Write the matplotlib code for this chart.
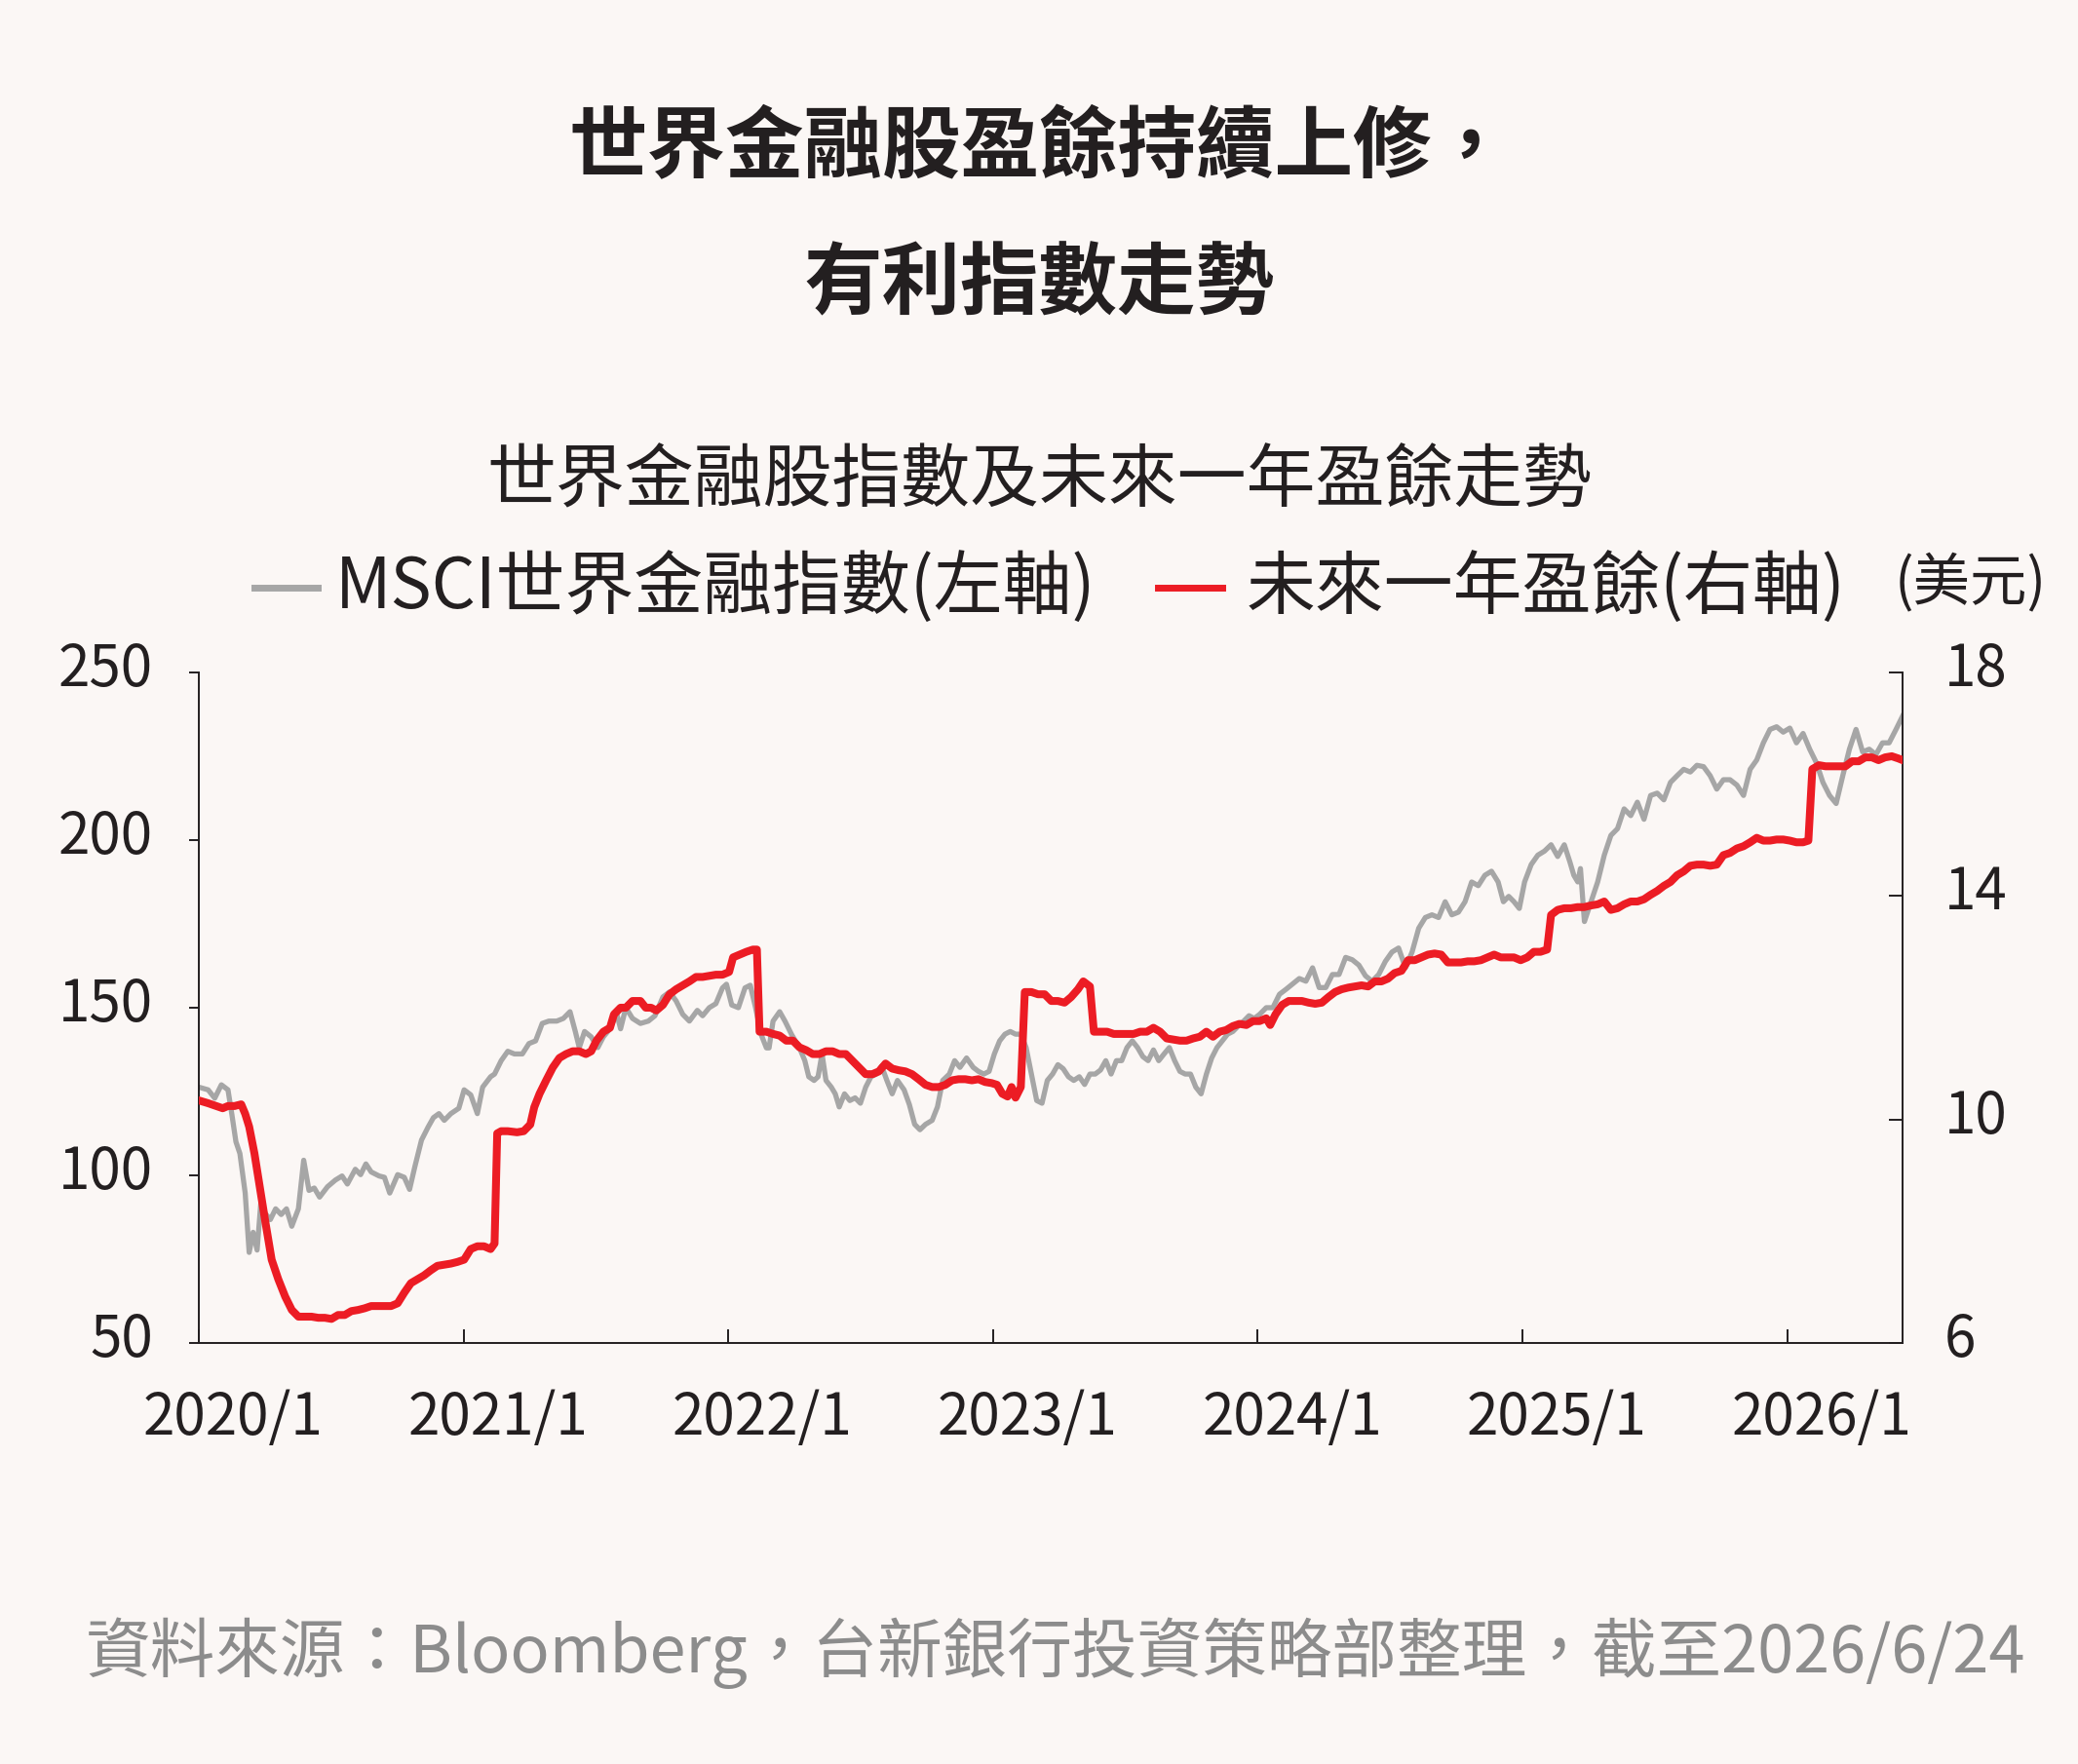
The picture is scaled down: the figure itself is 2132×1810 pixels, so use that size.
import matplotlib
matplotlib.use('Agg')
import matplotlib.pyplot as plt
from matplotlib.lines import Line2D
from matplotlib.transforms import ScaledTranslation

plt.rcParams['font.family'] = ['Noto Sans CJK TC', 'DejaVu Sans']

# MSCI world financials index (left axis), time in decimal years
msci_t = [
    2020.000, 2020.035, 2020.060, 2020.085, 2020.110, 2020.125, 2020.140, 2020.155, 2020.175, 2020.190,
    2020.205, 2020.220, 2020.235, 2020.250, 2020.270, 2020.290, 2020.311, 2020.331, 2020.351, 2020.376,
    2020.396, 2020.416, 2020.436, 2020.456, 2020.486, 2020.516, 2020.541, 2020.561, 2020.591, 2020.611,
    2020.631, 2020.651, 2020.681, 2020.701, 2020.721, 2020.751, 2020.776, 2020.796, 2020.816, 2020.841,
    2020.866, 2020.886, 2020.907, 2020.927, 2020.952, 2020.982, 2021.002, 2021.027, 2021.052, 2021.072,
    2021.102, 2021.117, 2021.142, 2021.167, 2021.192, 2021.222, 2021.247, 2021.272, 2021.297, 2021.322,
    2021.352, 2021.377, 2021.402, 2021.422, 2021.437, 2021.457, 2021.482, 2021.507, 2021.528, 2021.553,
    2021.578, 2021.593, 2021.613, 2021.638, 2021.668, 2021.698, 2021.723, 2021.753, 2021.778, 2021.803,
    2021.828, 2021.853, 2021.883, 2021.903, 2021.928, 2021.953, 2021.978, 2021.993, 2022.013, 2022.038,
    2022.063, 2022.083, 2022.103, 2022.124, 2022.144, 2022.154, 2022.169, 2022.194, 2022.214, 2022.239,
    2022.269, 2022.289, 2022.304, 2022.324, 2022.339, 2022.354, 2022.369, 2022.389, 2022.404, 2022.419,
    2022.439, 2022.459, 2022.479, 2022.499, 2022.519, 2022.539, 2022.559, 2022.579, 2022.599, 2022.619,
    2022.639, 2022.664, 2022.684, 2022.704, 2022.724, 2022.745, 2022.770, 2022.790, 2022.810, 2022.835,
    2022.855, 2022.875, 2022.900, 2022.925, 2022.945, 2022.965, 2022.985, 2023.005, 2023.025, 2023.045,
    2023.065, 2023.085, 2023.105, 2023.125, 2023.145, 2023.165, 2023.185, 2023.205, 2023.225, 2023.245,
    2023.265, 2023.285, 2023.305, 2023.326, 2023.346, 2023.366, 2023.386, 2023.406, 2023.426, 2023.446,
    2023.466, 2023.486, 2023.506, 2023.526, 2023.546, 2023.566, 2023.586, 2023.606, 2023.626, 2023.646,
    2023.666, 2023.686, 2023.706, 2023.726, 2023.746, 2023.766, 2023.786, 2023.806, 2023.826, 2023.846,
    2023.866, 2023.886, 2023.906, 2023.926, 2023.947, 2023.967, 2023.987, 2024.007, 2024.032, 2024.057,
    2024.082, 2024.107, 2024.132, 2024.157, 2024.182, 2024.207, 2024.232, 2024.257, 2024.282, 2024.307,
    2024.332, 2024.357, 2024.382, 2024.407, 2024.432, 2024.457, 2024.482, 2024.507, 2024.532, 2024.558,
    2024.583, 2024.608, 2024.633, 2024.658, 2024.683, 2024.708, 2024.733, 2024.758, 2024.783, 2024.808,
    2024.833, 2024.858, 2024.883, 2024.908, 2024.928, 2024.948, 2024.968, 2024.988, 2025.008, 2025.033,
    2025.058, 2025.083, 2025.108, 2025.133, 2025.158, 2025.179, 2025.194, 2025.209, 2025.219, 2025.234,
    2025.259, 2025.284, 2025.309, 2025.334, 2025.359, 2025.384, 2025.409, 2025.434, 2025.459, 2025.484,
    2025.509, 2025.534, 2025.559, 2025.584, 2025.609, 2025.634, 2025.659, 2025.684, 2025.709, 2025.734,
    2025.759, 2025.784, 2025.810, 2025.835, 2025.860, 2025.885, 2025.910, 2025.935, 2025.960, 2025.985,
    2026.010, 2026.035, 2026.060, 2026.085, 2026.110, 2026.135, 2026.160, 2026.185, 2026.210, 2026.235,
    2026.260, 2026.285, 2026.310, 2026.335, 2026.360, 2026.385, 2026.411, 2026.436,
]
msci_v = [
    126.3, 125.5, 123.0, 127.0, 125.5, 118.0, 110.0, 106.5, 94.7, 77.0,
    83.0, 77.7, 92.7, 88.7, 86.8, 90.0, 88.3, 90.0, 84.8, 90.0,
    104.5, 95.5, 96.2, 93.5, 96.6, 98.6, 99.8, 97.4, 101.8, 100.2,
    103.4, 101.0, 99.8, 99.4, 94.7, 100.2, 99.4, 95.8, 102.6, 110.5,
    114.4, 117.2, 118.4, 116.4, 118.4, 120.0, 125.5, 124.0, 118.4, 126.3,
    129.4, 130.2, 134.2, 137.0, 136.2, 136.2, 139.3, 140.1, 145.3, 146.0,
    146.0, 146.8, 148.8, 142.9, 138.1, 142.9, 141.3, 138.1, 141.3, 143.7,
    148.4, 143.7, 150.0, 146.8, 145.3, 146.0, 147.6, 153.2, 154.7, 152.0,
    148.0, 146.0, 149.2, 147.6, 150.0, 151.2, 155.9, 157.0, 150.8, 150.0,
    155.9, 156.7, 150.0, 142.0, 138.0, 138.0, 146.0, 148.8, 146.0, 142.0,
    138.0, 134.2, 129.4, 128.3, 129.4, 136.2, 128.3, 126.3, 124.3, 120.4,
    124.3, 122.3, 123.1, 121.5, 126.3, 129.4, 130.2, 132.6, 128.3, 124.3,
    128.3, 125.5, 121.1, 115.2, 113.6, 115.2, 116.4, 120.4, 128.3, 130.2,
    134.2, 132.2, 135.0, 132.2, 131.0, 130.2, 131.0, 136.2, 140.1, 142.1,
    142.9, 142.1, 142.1, 138.1, 130.2, 122.3, 121.5, 128.3, 130.2, 133.0,
    131.8, 129.4, 128.3, 129.4, 127.1, 130.2, 130.2, 131.4, 134.2, 130.2,
    134.2, 134.2, 138.1, 140.1, 138.1, 135.4, 134.2, 137.4, 134.2, 136.2,
    138.1, 134.2, 131.0, 130.2, 130.2, 126.3, 124.3, 130.2, 135.0, 138.1,
    140.1, 142.1, 142.9, 144.5, 146.0, 147.6, 146.8, 148.0, 150.0, 150.0,
    154.0, 155.5, 157.1, 158.7, 157.9, 161.9, 156.0, 156.0, 159.9, 159.9,
    165.0, 164.3, 162.7, 159.5, 157.9, 159.9, 163.8, 166.6, 167.8, 161.9,
    166.6, 173.7, 176.9, 177.7, 176.9, 181.6, 177.7, 178.5, 181.6, 187.5,
    186.4, 189.5, 190.7, 187.5, 181.6, 183.2, 181.6, 179.6, 187.5, 192.7,
    195.5, 196.7, 198.6, 195.1, 198.6, 193.5, 189.5, 187.5, 191.5, 175.7,
    181.6, 187.5, 195.5, 201.4, 203.4, 209.3, 207.3, 211.3, 206.2, 213.3,
    214.0, 212.0, 217.2, 219.2, 221.1, 220.3, 222.3, 221.9, 219.2, 215.2,
    218.0, 218.0, 216.4, 213.3, 221.1, 223.9, 229.0, 233.0, 233.8, 232.2,
    233.4, 229.0, 231.8, 227.1, 223.1, 217.2, 213.3, 210.9, 219.2, 227.1,
    233.0, 226.3, 227.1, 225.5, 229.0, 229.0, 233.0, 237.0,
]

# forward 12-month EPS (right axis, USD)
eps_t = [
    2020.000, 2020.035, 2020.065, 2020.090, 2020.110, 2020.135, 2020.160, 2020.175, 2020.190, 2020.210,
    2020.230, 2020.250, 2020.275, 2020.300, 2020.326, 2020.351, 2020.376, 2020.401, 2020.426, 2020.451,
    2020.476, 2020.501, 2020.526, 2020.551, 2020.576, 2020.601, 2020.626, 2020.651, 2020.676, 2020.701,
    2020.726, 2020.751, 2020.776, 2020.801, 2020.826, 2020.851, 2020.876, 2020.901, 2020.927, 2020.952,
    2020.977, 2021.002, 2021.027, 2021.052, 2021.077, 2021.102, 2021.117, 2021.127, 2021.142, 2021.167,
    2021.202, 2021.227, 2021.252, 2021.267, 2021.287, 2021.312, 2021.337, 2021.362, 2021.387, 2021.412,
    2021.437, 2021.462, 2021.482, 2021.502, 2021.528, 2021.553, 2021.568, 2021.593, 2021.613, 2021.638,
    2021.668, 2021.688, 2021.708, 2021.728, 2021.753, 2021.778, 2021.803, 2021.828, 2021.853, 2021.878,
    2021.903, 2021.928, 2021.953, 2021.978, 2022.003, 2022.018, 2022.043, 2022.068, 2022.093, 2022.108,
    2022.118, 2022.144, 2022.169, 2022.194, 2022.219, 2022.244, 2022.269, 2022.294, 2022.319, 2022.344,
    2022.369, 2022.394, 2022.419, 2022.444, 2022.469, 2022.494, 2022.519, 2022.544, 2022.569, 2022.594,
    2022.619, 2022.644, 2022.669, 2022.694, 2022.719, 2022.745, 2022.770, 2022.795, 2022.820, 2022.845,
    2022.870, 2022.895, 2022.920, 2022.945, 2022.970, 2022.995, 2023.015, 2023.035, 2023.055, 2023.070,
    2023.085, 2023.105, 2023.120, 2023.145, 2023.170, 2023.195, 2023.220, 2023.245, 2023.270, 2023.295,
    2023.321, 2023.341, 2023.366, 2023.381, 2023.406, 2023.431, 2023.456, 2023.481, 2023.506, 2023.531,
    2023.556, 2023.581, 2023.606, 2023.631, 2023.656, 2023.681, 2023.706, 2023.731, 2023.756, 2023.781,
    2023.806, 2023.831, 2023.856, 2023.881, 2023.906, 2023.931, 2023.957, 2023.982, 2024.007, 2024.032,
    2024.047, 2024.067, 2024.092, 2024.117, 2024.142, 2024.167, 2024.192, 2024.217, 2024.242, 2024.267,
    2024.292, 2024.317, 2024.342, 2024.367, 2024.392, 2024.417, 2024.442, 2024.467, 2024.492, 2024.517,
    2024.543, 2024.568, 2024.593, 2024.618, 2024.643, 2024.668, 2024.693, 2024.718, 2024.743, 2024.768,
    2024.793, 2024.818, 2024.843, 2024.868, 2024.893, 2024.918, 2024.943, 2024.968, 2024.993, 2025.018,
    2025.043, 2025.068, 2025.093, 2025.108, 2025.133, 2025.158, 2025.183, 2025.208, 2025.233, 2025.259,
    2025.284, 2025.309, 2025.334, 2025.359, 2025.384, 2025.409, 2025.434, 2025.459, 2025.484, 2025.509,
    2025.534, 2025.559, 2025.584, 2025.609, 2025.634, 2025.659, 2025.684, 2025.709, 2025.734, 2025.759,
    2025.784, 2025.810, 2025.835, 2025.860, 2025.885, 2025.910, 2025.935, 2025.960, 2025.985, 2026.010,
    2026.035, 2026.060, 2026.080, 2026.095, 2026.120, 2026.145, 2026.170, 2026.195, 2026.220, 2026.245,
    2026.270, 2026.295, 2026.320, 2026.345, 2026.370, 2026.395, 2026.420, 2026.436,
]
eps_v = [
    10.34, 10.29, 10.24, 10.20, 10.24, 10.24, 10.27, 10.10, 9.87, 9.39,
    8.80, 8.20, 7.49, 7.14, 6.83, 6.59, 6.47, 6.47, 6.47, 6.45,
    6.45, 6.43, 6.50, 6.50, 6.57, 6.59, 6.62, 6.66, 6.66, 6.66,
    6.66, 6.71, 6.90, 7.07, 7.14, 7.21, 7.30, 7.38, 7.40, 7.42,
    7.45, 7.49, 7.68, 7.73, 7.73, 7.68, 7.78, 9.75, 9.79, 9.79,
    9.77, 9.79, 9.91, 10.22, 10.46, 10.70, 10.93, 11.10, 11.17, 11.22,
    11.22, 11.17, 11.22, 11.41, 11.57, 11.64, 11.88, 12.00, 12.00, 12.12,
    12.12, 12.00, 12.00, 11.95, 12.05, 12.24, 12.33, 12.40, 12.47, 12.55,
    12.55, 12.57, 12.59, 12.59, 12.64, 12.90, 12.95, 13.00, 13.04, 13.04,
    11.57, 11.57, 11.53, 11.50, 11.41, 11.41, 11.29, 11.24, 11.17, 11.17,
    11.22, 11.22, 11.17, 11.17, 11.05, 10.93, 10.81, 10.81, 10.86, 11.00,
    10.91, 10.88, 10.86, 10.81, 10.72, 10.62, 10.58, 10.58, 10.62, 10.70,
    10.72, 10.72, 10.70, 10.72, 10.67, 10.65, 10.62, 10.46, 10.41, 10.58,
    10.39, 10.58, 12.28, 12.28, 12.24, 12.24, 12.12, 12.12, 12.09, 12.19,
    12.33, 12.47, 12.38, 11.57, 11.57, 11.57, 11.53, 11.53, 11.53, 11.53,
    11.57, 11.57, 11.64, 11.57, 11.45, 11.43, 11.41, 11.41, 11.45, 11.48,
    11.57, 11.48, 11.57, 11.60, 11.67, 11.71, 11.69, 11.76, 11.76, 11.81,
    11.69, 11.88, 12.05, 12.12, 12.12, 12.12, 12.09, 12.07, 12.09, 12.19,
    12.28, 12.33, 12.36, 12.38, 12.40, 12.38, 12.47, 12.47, 12.52, 12.62,
    12.66, 12.85, 12.85, 12.90, 12.95, 12.97, 12.95, 12.81, 12.81, 12.81,
    12.83, 12.83, 12.85, 12.90, 12.95, 12.90, 12.90, 12.90, 12.85, 12.90,
    13.00, 13.00, 13.04, 13.66, 13.75, 13.78, 13.78, 13.80, 13.80, 13.83,
    13.85, 13.90, 13.75, 13.78, 13.85, 13.90, 13.90, 13.94, 14.02, 14.09,
    14.18, 14.25, 14.37, 14.44, 14.54, 14.56, 14.56, 14.54, 14.56, 14.73,
    14.77, 14.85, 14.89, 14.96, 15.04, 14.99, 14.99, 15.01, 15.01, 14.99,
    14.96, 14.96, 14.99, 16.27, 16.34, 16.32, 16.32, 16.32, 16.32, 16.41,
    16.41, 16.48, 16.48, 16.43, 16.48, 16.50, 16.46, 16.43,
]

years = [2020, 2021, 2022, 2023, 2024, 2025, 2026]
year_labels = [f'{y}/1' for y in years]
left_ticks = [50, 100, 150, 200, 250]
right_ticks = [6, 10, 14, 18]

title_1 = '世界金融股盈餘持續上修，'
title_2 = '有利指數走勢'
subtitle = '世界金融股指數及未來一年盈餘走勢'
label_msci = 'MSCI世界金融指數(左軸)'
label_eps = '未來一年盈餘(右軸)'
unit = '(美元)'
source = '資料來源：Bloomberg，台新銀行投資策略部整理，截至2026/6/24'

BG = '#fbf7f5'
INK = '#231f20'
GREY = '#a6a6a6'
RED = '#ec1c24'

fig = plt.figure(figsize=(21.32, 18.10), dpi=100, facecolor=BG)
ax = fig.add_axes([0.0957, 0.2387, 0.8199, 0.3801])
ax.set_facecolor(BG)
ax2 = ax.twinx()

ax.plot(msci_t, msci_v, color=GREY, lw=3.8, solid_joinstyle='round', zorder=2)
ax2.plot(eps_t, eps_v, color=RED, lw=5.8, solid_joinstyle='round', zorder=3)

ax.set_xlim(msci_t[0], msci_t[-1])
ax.set_ylim(50, 250)
ax2.set_ylim(6, 18)
ax.set_xticks(years)
ax.set_xticklabels(year_labels)
ax.set_yticks(left_ticks)
ax2.set_yticks(right_ticks)

for a in (ax, ax2):
    a.spines['top'].set_visible(False)
    for s in a.spines.values():
        s.set_linewidth(1.4)
        s.set_color(INK)
ax.spines['right'].set_visible(False)
ax2.spines['left'].set_visible(False)
ax2.spines['bottom'].set_visible(False)

ax.tick_params(axis='x', direction='in', length=10, width=1.4, pad=34,
               labelsize=42, colors=INK)
ax.tick_params(axis='y', direction='out', length=7, width=1.4, pad=27,
               labelsize=42, colors=INK)
ax2.tick_params(axis='y', direction='in', length=10, width=1.4, pad=31,
                labelsize=42, colors=INK)

# year labels sit a little right of their ticks, value labels a bit high
shift_x = ScaledTranslation(0.35, 0, fig.dpi_scale_trans)
for lab in ax.get_xticklabels():
    lab.set_transform(lab.get_transform() + shift_x)
shift_y = ScaledTranslation(0, 0.095, fig.dpi_scale_trans)
for lab in ax.get_yticklabels() + ax2.get_yticklabels():
    lab.set_transform(lab.get_transform() + shift_y)

fig.text(0.5, 0.9155, title_1, ha='center', va='center', fontsize=58,
         fontweight='bold', color=INK)
fig.text(0.5, 0.838, title_2, ha='center', va='center', fontsize=58,
         fontweight='bold', color=INK)
fig.text(0.5, 0.727, subtitle, ha='center', va='center', fontsize=51, color=INK)

ly = 0.667
fig.add_artist(Line2D([0.1225, 0.1530], [ly, ly], transform=fig.transFigure,
                      color=GREY, lw=5.0))
fig.text(0.1615, ly, label_msci, ha='left', va='center', fontsize=51, color=INK)
fig.add_artist(Line2D([0.5570, 0.5880], [ly, ly], transform=fig.transFigure,
                      color=RED, lw=5.0))
fig.text(0.5995, ly, label_eps, ha='left', va='center', fontsize=51, color=INK)
fig.text(0.9850, ly + 0.002, unit, ha='right', va='center', fontsize=42, color=INK)

fig.text(0.041, 0.0630, source, ha='left', va='center', fontsize=48, color='#8c8c8c')

fig.savefig('out.png', dpi=100, facecolor=BG)
